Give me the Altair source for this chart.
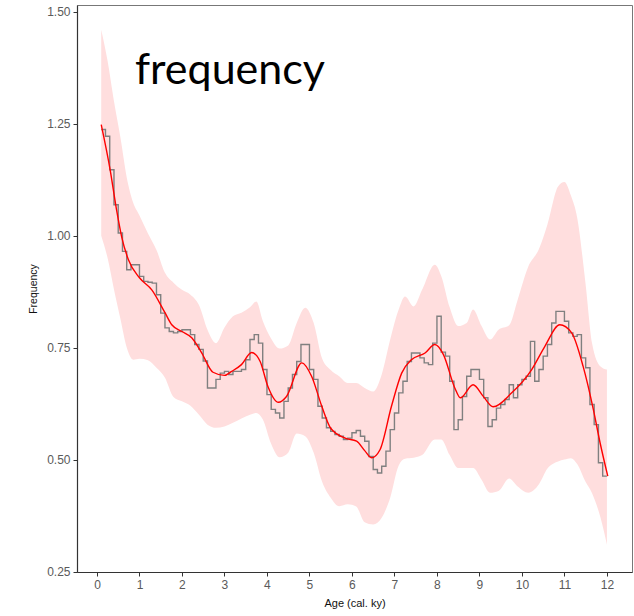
import altair as alt
import pandas as pd

# ---- step histogram (bin start, 0.1 ky wide) ----
step_vals = [
    1.237, 1.222, 1.147, 1.069, 1.006, 0.965, 0.924, 0.935, 0.935,   # 0.1-0.9
    0.909, 0.898, 0.896, 0.894, 0.868, 0.827, 0.794, 0.786, 0.783, 0.786,  # 1.0-1.9
    0.790, 0.790, 0.779, 0.757, 0.746, 0.720, 0.660, 0.660, 0.679, 0.693,  # 2.0-2.9
    0.697, 0.690, 0.697, 0.697, 0.701, 0.723, 0.768, 0.779, 0.760, 0.701,  # 3.0-3.9
    0.645, 0.612, 0.604, 0.593, 0.630, 0.660, 0.690, 0.719, 0.757, 0.757,  # 4.0-4.9
    0.701, 0.679, 0.619, 0.593, 0.571, 0.563, 0.556, 0.552, 0.545, 0.548,  # 5.0-5.9
    0.560, 0.565, 0.552, 0.541, 0.507, 0.478, 0.470, 0.485, 0.519, 0.567,  # 6.0-6.9
    0.604, 0.649, 0.675, 0.719, 0.738, 0.738, 0.727, 0.716, 0.712, 0.760,  # 7.0-7.9
    0.820, 0.740, 0.731, 0.675, 0.567, 0.589, 0.641, 0.686, 0.701, 0.701,  # 8.0-8.9
    0.679, 0.638, 0.574, 0.589, 0.615, 0.623, 0.634, 0.667, 0.638, 0.667,  # 9.0-9.9
    0.679, 0.686, 0.764, 0.675, 0.701, 0.731, 0.757, 0.805, 0.831, 0.831,  # 10.0-10.9
    0.809, 0.783, 0.775, 0.779, 0.727, 0.705, 0.623, 0.578, 0.493, 0.463,  # 11.0-11.9
]
step_x = [round(0.1 * (i + 1), 1) for i in range(len(step_vals))]
step_x_end = 12.0

# ---- smooth fit ----
fit_x = [0.1, 0.31, 0.46, 0.58, 0.74, 1.0, 1.29, 1.6, 1.76, 2.0, 2.23, 2.46, 2.73,
         3.0, 3.17, 3.4, 3.64, 3.84, 4.02, 4.27, 4.46, 4.82, 5.05, 5.29, 5.5, 5.84,
         6.11, 6.3, 6.46, 6.66, 6.93, 7.17, 7.4, 7.72, 7.95, 8.15, 8.42, 8.55, 8.85,
         9.1, 9.32, 9.76, 10.23, 10.54, 10.89, 11.17, 11.44, 11.68, 11.84, 12.02]
fit_y = [1.248, 1.147, 1.058, 0.998, 0.946, 0.906, 0.879, 0.828, 0.801, 0.786, 0.772,
         0.739, 0.695, 0.688, 0.697, 0.712, 0.739, 0.719, 0.664, 0.628, 0.641, 0.716,
         0.686, 0.619, 0.570, 0.548, 0.541, 0.520, 0.504, 0.522, 0.619, 0.693, 0.723,
         0.738, 0.757, 0.735, 0.660, 0.638, 0.667, 0.640, 0.618, 0.649, 0.701, 0.753,
         0.801, 0.783, 0.708, 0.612, 0.537, 0.463]

# ---- confidence band ----
band_x = [0.1, 0.25, 0.4, 0.55, 0.7, 0.85, 1.0, 1.2, 1.4, 1.6, 1.8, 2.0, 2.2, 2.4, 2.6,
          2.8, 3.0, 3.2, 3.4, 3.6, 3.75, 3.9, 4.1, 4.3, 4.5, 4.7, 4.9, 5.1, 5.3, 5.5,
          5.7, 5.9, 6.1, 6.3, 6.5, 6.7, 6.9, 7.1, 7.25, 7.45, 7.65, 7.95, 8.1, 8.3,
          8.5, 8.7, 8.85, 9.05, 9.25, 9.45, 9.7, 9.9, 10.15, 10.4, 10.6, 10.85, 11.0,
          11.15, 11.3, 11.5, 11.65, 11.85, 12.0]
band_hi = [1.46, 1.39, 1.30, 1.22, 1.13, 1.074, 1.045, 1.005, 0.968, 0.917, 0.895,
           0.879, 0.868, 0.845, 0.79, 0.76, 0.795, 0.82, 0.828, 0.84, 0.853, 0.81,
           0.77, 0.748, 0.755, 0.805, 0.839, 0.805, 0.725, 0.70, 0.686, 0.671, 0.671,
           0.66, 0.652, 0.69, 0.768, 0.835, 0.864, 0.842, 0.879, 0.935, 0.91, 0.84,
           0.798, 0.805, 0.835, 0.798, 0.768, 0.79, 0.80, 0.857, 0.931, 0.97, 1.025,
           1.11, 1.12, 1.09, 1.04, 0.89, 0.76, 0.708, 0.701]
band_lo = [1.00, 0.95, 0.88, 0.815, 0.75, 0.723, 0.725, 0.722, 0.705, 0.683, 0.640,
           0.630, 0.620, 0.600, 0.578, 0.571, 0.574, 0.582, 0.592, 0.600, 0.604, 0.59,
           0.535, 0.505, 0.515, 0.558, 0.552, 0.515, 0.45, 0.415, 0.396, 0.400, 0.395,
           0.36, 0.355, 0.37, 0.415, 0.487, 0.502, 0.504, 0.51, 0.545, 0.545, 0.51,
           0.481, 0.481, 0.481, 0.455, 0.426, 0.430, 0.458, 0.440, 0.426, 0.445, 0.48,
           0.496, 0.50, 0.503, 0.49, 0.45, 0.425, 0.37, 0.31]

x_ticks = [0, 1, 2, 3, 4, 5, 6, 7, 8, 9, 10, 11, 12]
y_ticks = [0.25, 0.5, 0.75, 1.0, 1.25, 1.5]

step_df = pd.DataFrame({"x": step_x + [step_x_end], "y": step_vals + [step_vals[-1]]})
fit_df = pd.DataFrame({"x": fit_x, "y": fit_y})
band_df = pd.DataFrame({"x": band_x, "lo": band_lo, "hi": band_hi})

xscale = alt.Scale(domain=[-0.47, 12.59], nice=False, zero=False)
yscale = alt.Scale(domain=[0.249, 1.515], nice=False, zero=False)

xaxis = alt.Axis(values=x_ticks, format="d", title="Age (cal. ky)", grid=False,
                 labelFont="Liberation Sans", labelFontSize=12, labelColor="#5a5a5a",
                 tickColor="#333333", tickSize=4, domainColor="#333333", domainWidth=1.2,
                 labelPadding=3, titleFont="Liberation Sans", titleFontSize=11,
                 titleFontWeight="normal", titleColor="#111111", titlePadding=7)
yaxis = alt.Axis(values=y_ticks, format=".2f", title="Frequency", grid=False,
                 labelFont="Liberation Sans", labelFontSize=12, labelColor="#5a5a5a",
                 tickColor="#333333", tickSize=4, domainColor="#333333", domainWidth=1.2,
                 labelPadding=3, titleFont="Liberation Sans", titleFontSize=10.5,
                 titleFontWeight="normal", titleColor="#111111", titlePadding=8)

band = alt.Chart(band_df).mark_area(color="#FFDEDE", opacity=1, interpolate="monotone").encode(
    x=alt.X("x:Q", scale=xscale, axis=xaxis),
    y=alt.Y("lo:Q", scale=yscale, axis=yaxis),
    y2="hi:Q",
)

steps = alt.Chart(step_df).mark_line(color="#808080", strokeWidth=1.4, interpolate="step-after").encode(
    x=alt.X("x:Q", scale=xscale),
    y=alt.Y("y:Q", scale=yscale),
)

fit = alt.Chart(fit_df).mark_line(color="#FF0000", strokeWidth=1.4, interpolate="monotone").encode(
    x=alt.X("x:Q", scale=xscale),
    y=alt.Y("y:Q", scale=yscale),
)

label = alt.Chart(pd.DataFrame({"t": ["frequency"]})).mark_text(
    font="Lato", fontSize=43, color="#000000", align="left", baseline="alphabetic"
).encode(text="t:N", x=alt.value(58), y=alt.value(79))

chart = alt.layer(band, steps, fit, label).properties(
    width=555, height=567,
    autosize=alt.AutoSizeParams(type="none"),
    padding={"left": 77, "top": 5, "right": 2, "bottom": 44},
).configure_view(stroke="#777777", strokeWidth=1)

chart.save("out.html", embed_options={"renderer": "svg", "actions": False})
